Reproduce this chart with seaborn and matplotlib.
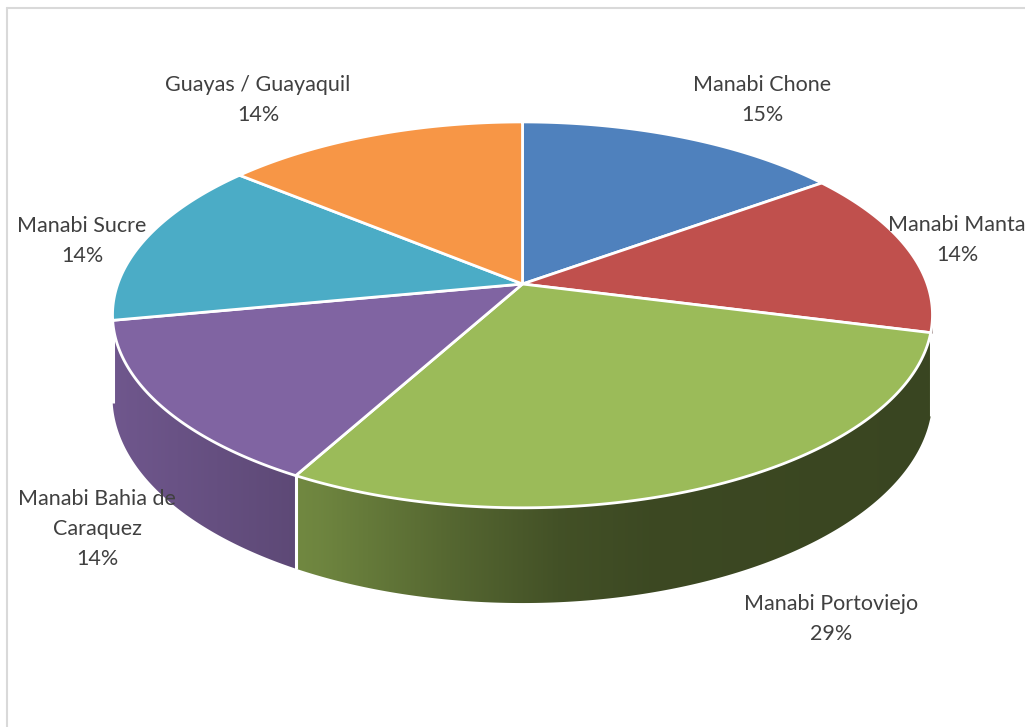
import numpy as np
import matplotlib
matplotlib.use("Agg")
import matplotlib.pyplot as plt
import seaborn as sns
from matplotlib.patches import Polygon

# Data
categories = ["Manabi Chone", "Manabi Manta", "Manabi Portoviejo",
              "Manabi Bahia de\nCaraquez", "Manabi Sucre", "Guayas / Guayaquil"]
values = [15, 14, 29, 14, 14, 14]
colors_hex = ["#4F81BD", "#C0504D", "#9BBB59", "#8064A2", "#4BACC6", "#F79646"]

# Label anchor points (pixel space)
label_xy = [(762, 100), (957, 240), (831, 619), (97, 529), (82, 241), (258, 100)]

sns.set_theme(style="white")
plt.rcParams["font.family"] = ["Lato", "DejaVu Sans"]
palette = sns.color_palette(colors_hex)

fig = plt.figure(figsize=(10.25, 7.27), dpi=100)
ax = fig.add_axes([0, 0, 1, 1])

# Perspective disc geometry
CX, CY, S, T, K, DEPTH = 522.5, 284.0, 404.7, 188.0, 0.16, 80.0


def project(theta, depth=0.0):
    w = 1.0 - K * np.sin(theta)
    return CX + S * np.cos(theta) / w, CY + (T * np.sin(theta) + depth) / w


def side_shade(x):
    # darkening of the rim, left-to-right
    return np.interp(x, [100, 320, 450, 560, 650, 940],
                     [0.88, 0.71, 0.55, 0.43, 0.39, 0.37])


fractions = np.array(values, dtype=float) / np.sum(values)
bounds = -np.pi / 2 + 2 * np.pi * np.concatenate([[0.0], np.cumsum(fractions)])

vis_lo = np.arcsin(K)
vis_hi = np.pi - np.arcsin(K)

# Side walls (front rim only), filled with a horizontal gradient
for i, col in enumerate(palette):
    a, b = bounds[i], bounds[i + 1]
    lo, hi = max(a, vis_lo), min(b, vis_hi)
    if hi <= lo:
        continue
    th = np.linspace(lo, hi, 300)
    tx, ty = project(th)
    bx, by = project(th[::-1], DEPTH)
    pts = np.column_stack([np.concatenate([tx, bx]), np.concatenate([ty, by])])
    patch = Polygon(pts, closed=True, facecolor="none", edgecolor="none", zorder=2)
    ax.add_patch(patch)
    x0, x1 = pts[:, 0].min() - 2, pts[:, 0].max() + 2
    y0, y1 = pts[:, 1].min() - 2, pts[:, 1].max() + 2
    xs = np.linspace(x0, x1, 400)
    grad = np.clip(np.array(col)[None, :] * side_shade(xs)[:, None], 0, 1)
    img = np.repeat(grad[None, :, :], 2, axis=0)
    im = ax.imshow(img, extent=(x0, x1, y1, y0), aspect="auto",
                   interpolation="bilinear", zorder=2)
    im.set_clip_path(patch)

# White seams down the side at slice boundaries
for bnd in bounds[1:-1]:
    if vis_lo + 0.02 < bnd < vis_hi - 0.02:
        xa, ya = project(bnd)
        xb, yb = project(bnd, DEPTH)
        ax.plot([xa, xb], [ya, yb], color="white", lw=2.2, zorder=3,
                solid_capstyle="butt")

# Top faces
for i, col in enumerate(palette):
    a, b = bounds[i], bounds[i + 1]
    th = np.linspace(a, b, 200)
    xs, ys = project(th)
    pts = [(CX, CY)] + list(zip(xs, ys))
    ax.add_patch(Polygon(pts, closed=True, facecolor=col, edgecolor="white",
                         linewidth=2.0, joinstyle="round", zorder=4))

# Data labels
for (x, y), name, v in zip(label_xy, categories, values):
    ax.text(x, y, f"{name}\n{v:.0f}%", ha="center", va="center",
            multialignment="center", fontsize=15.5, color="#404040",
            linespacing=1.62, zorder=5)

# Chart-area border
ax.plot([6.5, 6.5], [7.5, 727], color="#d9d9d9", lw=1.5, zorder=1)
ax.plot([6.5, 1025], [7.5, 7.5], color="#d9d9d9", lw=1.5, zorder=1)

ax.set_xlim(0, 1025)
ax.set_ylim(727, 0)
ax.axis("off")

fig.savefig("out.png", dpi=100, facecolor="white")
